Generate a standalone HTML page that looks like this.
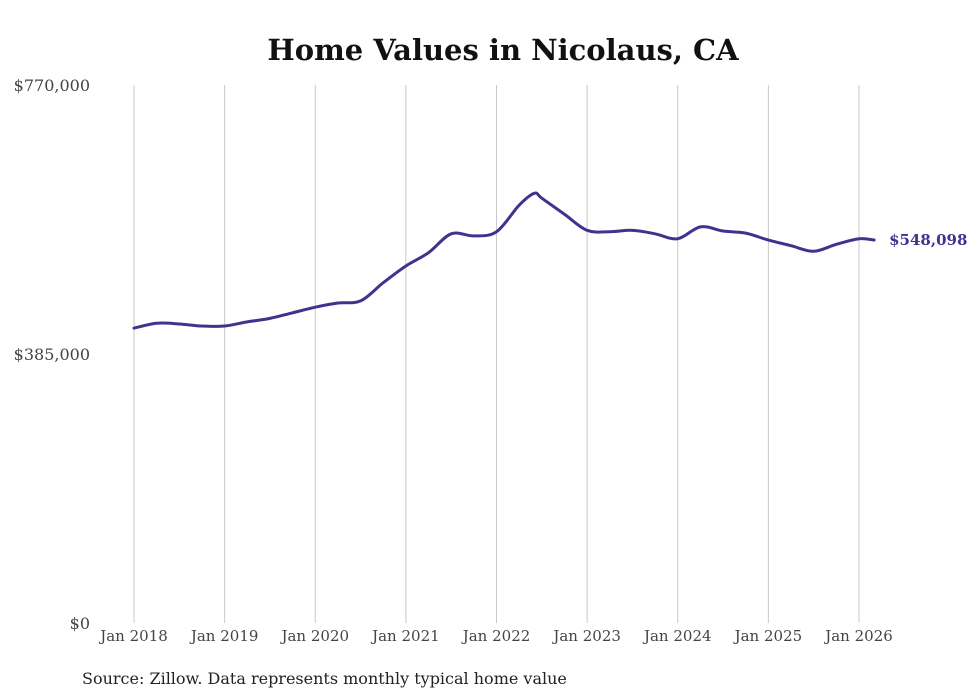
<!DOCTYPE html>
<html><head><meta charset="utf-8"><style>
body{margin:0;background:#fff;}
svg{display:block;font-family:"DejaVu Serif","Liberation Serif",serif;}
</style></head><body>
<svg id="c" width="980" height="699">
<text x="503" y="60" text-anchor="middle" font-size="29" font-weight="bold" fill="#111">Home Values in Nicolaus, CA</text>
<g id="grid"></g><g id="yax"></g><g id="xax"></g><g id="series"></g>
<text x="82" y="684" font-size="16" fill="#222">Source: Zillow. Data represents monthly typical home value</text>
</svg>
<script>
const months=[0,3,6,9,12,15,18,21,24,27,30,33,36,39,42,45,48,51,53,54,57,60,63,66,69,72,75,78,81,84,87,90,93,96,98];
const values=[422000,429000,428000,425000,425000,431000,436000,444000,452000,458000,461000,487000,511000,530000,557000,554000,560000,598000,615000,608000,585000,562000,560000,562000,557000,550000,567000,561000,558000,548000,540000,532000,542000,550000,548098];
const xLabels=["Jan 2018","Jan 2019","Jan 2020","Jan 2021","Jan 2022","Jan 2023","Jan 2024","Jan 2025","Jan 2026"];
const yTicks=[0,385000,770000];
const yLabels=["$0","$385,000","$770,000"];
const lastLabel="$548,098";
const NS="http://www.w3.org/2000/svg";
const x=m=>134+m*(725/96);
const y=v=>623-v*(538/770000);
function mk(t,a,p){const e=document.createElementNS(NS,t);for(const k in a)e.setAttribute(k,a[k]);p.appendChild(e);return e;}
const grid=document.getElementById('grid'),yax=document.getElementById('yax'),xax=document.getElementById('xax'),ser=document.getElementById('series');
xLabels.forEach((l,i)=>{
  const g=mk('line',{x1:x(i*12),x2:x(i*12),y1:85,y2:623,stroke:'#c8c8c8','stroke-width':1},grid);
  
  
  const t=mk('text',{x:x(i*12),y:641,'text-anchor':'middle','font-size':15,fill:'#444'},xax);
  t.textContent=l;
  
  
});
yTicks.forEach((v,i)=>{
  const t=mk('text',{x:90,y:y(v)+6,'text-anchor':'end','font-size':16,fill:'#444'},yax);
  t.textContent=yLabels[i];
  
  
});
const pts=months.map((m,i)=>[x(m),y(values[i])]);
let d='M'+pts[0][0].toFixed(1)+','+pts[0][1].toFixed(1);
for(let i=0;i<pts.length-1;i++){
  const p0=pts[i-1]||pts[i],p1=pts[i],p2=pts[i+1],p3=pts[i+2]||p2;
  const c1=[p1[0]+(p2[0]-p0[0])/6,p1[1]+(p2[1]-p0[1])/6];
  const c2=[p2[0]-(p3[0]-p1[0])/6,p2[1]-(p3[1]-p1[1])/6];
  d+=' C'+c1.join(',')+' '+c2.join(',')+' '+p2.join(',');
}
const p=mk('path',{d:d,fill:'none',stroke:'#3d3490','stroke-width':3,'stroke-linejoin':'round','stroke-linecap':'round'},ser);


const n=months.length-1;
const lt=mk('text',{x:x(months[n])+15,y:y(values[n])+5,'font-size':15,'font-weight':'bold',fill:'#3d3490'},ser);
lt.textContent=lastLabel;


</script>
</body></html>
